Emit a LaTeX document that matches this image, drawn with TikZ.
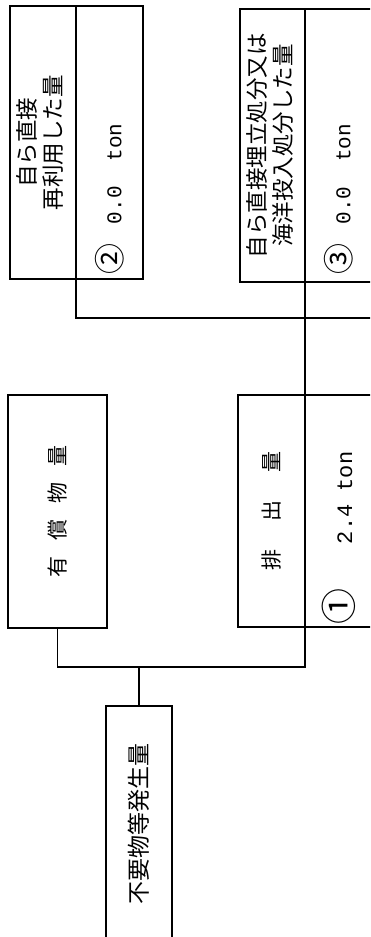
\documentclass[tikz,border=0pt]{standalone}
\usepackage{fontspec}
\newfontfamily\jpfont{Noto Sans CJK JP}
\newfontfamily\tonfont{Liberation Mono}
\usepackage{graphicx}
\usepackage{tikz}
\usetikzlibrary{positioning}

% rotated label (lines centred) and rotated value (starts at the bottom)
\newcommand{\vlab}[1]{\rotatebox{90}{\begin{tabular}{@{}c@{}}#1\end{tabular}}}
\newcommand{\vval}[2]{\rotatebox{90}{\makebox[#1][l]{#2}}}

\begin{document}
\begin{tikzpicture}[x=1pt, y=-1pt,
  box/.style={draw, line width=1.6pt, outer sep=0pt, inner sep=0pt},
  labtext/.style={font=\jpfont\fontsize{22.5}{25}\selectfont},
  valtext/.style={font=\tonfont\fontsize{21}{25}\selectfont},
  link/.style={line width=1.3pt}]
  \useasboundingbox (0,0) rectangle (370,937);
  \clip (0,0) rectangle (370,937);

  % reused directly
  \node[box, labtext, minimum width=66pt, minimum height=273pt] (reuseL) at (43,142.5) {\vlab{自ら直接\\再利用した量}};
  \node[box, valtext, minimum width=67pt, minimum height=273pt, right=0pt of reuseL] (reuseV)
    {\vval{255pt}{\hspace{-4pt}{\jpfont\fontsize{31}{25}\selectfont ②}\hspace{19pt}0.0\hspace{25pt}ton}};

  % landfill / ocean disposal
  \node[box, labtext, minimum width=65pt, minimum height=273pt] (landL) at (272.5,145.5) {\vlab{自ら直接埋立処分又は\\海洋投入処分した量}};
  \node[box, valtext, minimum width=67pt, minimum height=273pt, right=0pt of landL] (landV)
    {\vval{250pt}{\hspace{-4pt}{\jpfont\fontsize{31}{25}\selectfont ③}\hspace{19pt}0.0\hspace{25pt}ton}};

  % sold as valuables
  \node[box, font=\jpfont\fontsize{21}{25}\selectfont, minimum width=99pt, minimum height=233pt] (sold) at (57.5,511.5)
    {\rotatebox{90}{有\hspace{0.75em}償\hspace{0.75em}物\hspace{0.75em}量}};

  % discharged
  \node[box, font=\jpfont\fontsize{21}{25}\selectfont, minimum width=67pt, minimum height=232pt] (dischL) at (271.5,511)
    {\rotatebox{90}{排\hspace{1.35em}出\hspace{1.35em}量}};
  \node[box, font=\tonfont\fontsize{22}{25}\selectfont, minimum width=67pt, minimum height=232pt, right=0pt of dischL] (dischV)
    {\vval{218pt}{\hspace{-4pt}{\jpfont\fontsize{36}{25}\selectfont ①}\hspace{44pt}2.4 ton}};

  % generated
  \node[box, font=\jpfont\fontsize{23}{25}\selectfont, minimum width=66pt, minimum height=236pt] (gen) at (139,824)
    {\rotatebox{90}{不要物等発生量}};

  \coordinate (split) at (139,667);
  \coordinate (merge) at (305,318);
  \coordinate (offpage) at (380,318);

  \draw[link] (gen.north) -- (split);
  \draw[link] (sold.south) |- (split) -| (dischL.south east);
  \draw[link] (dischL.north east) -- (merge);
  \draw[link] (reuseL.south east) |- (merge) -- (landL.south east);
  \draw[link] (merge) -- (offpage);
\end{tikzpicture}
\end{document}
